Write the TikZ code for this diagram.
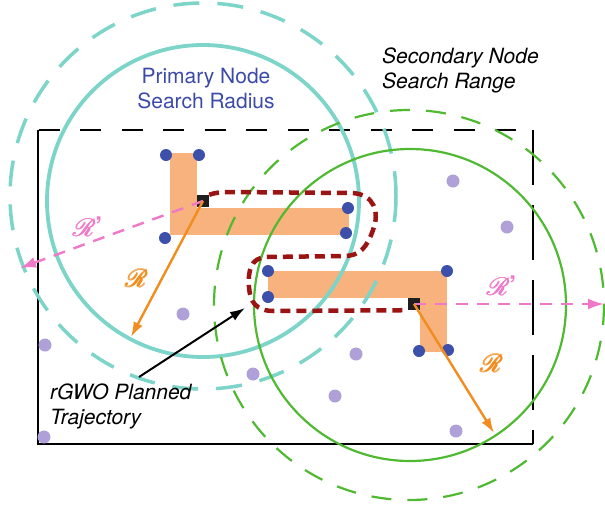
\documentclass[tikz,border=0pt]{standalone}
\usepackage{amsmath}
\usepackage{fontspec}
\setmainfont{texgyreheros}[Extension=.otf, UprightFont=*-regular, ItalicFont=*-italic, BoldFont=*-bold]
\usepackage{mathrsfs}
\usetikzlibrary{arrows.meta}

\definecolor{cyanring}{RGB}{125,212,200}
\definecolor{greenring}{RGB}{80,185,50}
\definecolor{pathfill}{RGB}{248,178,125}
\definecolor{rarrow}{RGB}{242,140,30}
\definecolor{nodeblue}{RGB}{60,80,170}
\definecolor{nodepurple}{RGB}{175,160,215}
\definecolor{trajred}{RGB}{155,20,20}
\definecolor{rpink}{RGB}{240,120,200}
\definecolor{labelblue}{RGB}{60,75,168}

\newcommand\scrR{\ensuremath{\pmb{\mathscr{R}}}}

\tikzset{
  lbl/.style={inner sep=0pt, font=\fontsize{21}{25}\selectfont},
  itlbl/.style={inner sep=0pt, font=\fontsize{21}{25}\selectfont\itshape},
  bdot/.style={circle, fill=nodeblue, inner sep=0pt, minimum size=12pt},
  pdot/.style={circle, fill=nodepurple, inner sep=0pt, minimum size=13pt},
  centre/.style={rectangle, fill=black!88, inner sep=0pt, minimum size=12pt},
  rlbl/.style={inner sep=0pt, font=\fontsize{27}{27}\selectfont},
  rarr/.style={draw=rarrow, line width=2.4pt, -{Latex[length=15pt,width=10pt]}},
  parr/.style={draw=rpink, line width=2.4pt, dash pattern=on 12pt off 9pt, -{Latex[length=16pt,width=11pt]}},
}

\begin{document}
\begin{tikzpicture}[x=1pt,y=-1pt]
\useasboundingbox (0,0) rectangle (605,507);

% occupied cells of the two corridors
\fill[pathfill] (170,153) rectangle (197,235);
\fill[pathfill] (170,208) rectangle (349,235);
\fill[pathfill] (268,271) rectangle (447,298);
\fill[pathfill] (420,271) rectangle (447,352);

% workspace boundary
\draw[line width=2pt] (533,444) -- (38,444) -- (38,130);
\draw[line width=2pt, dash pattern=on 21pt off 20.5pt] (38.5,130) -- (533,130);
\draw[line width=2pt, dash pattern=on 55pt off 20pt] (533,130) -- (533,444);

% free nodes
\node[pdot] (p1) at (453,181) {};
\node[pdot] (p2) at (507,227) {};
\node[pdot] (p3) at (183,314) {};
\node[pdot] (p4) at (45,345) {};
\node[pdot] (p5) at (356,354) {};
\node[pdot] (p6) at (253,374) {};
\node[pdot] (p7) at (335,396) {};
\node[pdot] (p8) at (44,437) {};
\node[pdot] (p9) at (456,431) {};

% current positions
\node[centre] (s1) at (203,201) {};
\node[centre] (s2) at (414,304) {};

% search rings
\draw[cyanring, line width=3.8pt] (203,201) circle (156);
\draw[cyanring, line width=3.5pt, dash pattern=on 26pt off 18pt] (203,196) circle (193);
\draw[greenring, line width=2.2pt] (410,305) circle (156);
\draw[greenring, line width=2.2pt, dash pattern=on 20pt off 16pt] (409,305) circle (195);

% corner nodes of the corridors
\node[bdot] (b1) at (166,155) {};
\node[bdot] (b2) at (199,155) {};
\node[bdot] (b3) at (165,238) {};
\node[bdot] (b4) at (348,208) {};
\node[bdot] (b5) at (346,233) {};
\node[bdot] (b6) at (268,271) {};
\node[bdot] (b7) at (268,297) {};
\node[bdot] (b8) at (447,271) {};
\node[bdot] (b9) at (419,351) {};
\node[bdot] (b10) at (448,350) {};

% planned trajectory
\draw[trajred, line width=4.5pt, dash pattern=on 10pt off 6pt]
  (s1.north east) .. controls (214,193) and (220,192) .. (230,192)
  -- (352,193) .. controls (374,194) and (380,212) .. (373,230)
  .. controls (367,247) and (360,256) .. (344,256)
  -- (266,257) .. controls (250,258) and (248,272) .. (249,287)
  .. controls (250,302) and (256,311) .. (274,311)
  -- (s2.south west);

% radius arrows
\coordinate (r1) at (131,337);
\coordinate (r2) at (494,433);
\coordinate (q1) at (20,268);
\coordinate (q2) at (604,304);
\draw[parr] (s1.center) -- (q1);
\draw[parr] (s2.center) -- (q2);
\draw[rarr] (s1.center) -- (r1);
\draw[rarr] (s2.center) -- (r2);

\node[rlbl, text=rpink] (rp1) at (88,227) {\scrR\kern-1pt\textbf{'}};
\node[rlbl, text=rpink] (rp2) at (502,286) {\scrR\kern-1pt\textbf{'}};
\node[rlbl, text=rarrow] (rr1) at (137,278) {\scrR};
\node[rlbl, text=rarrow] (rr2) at (492,363) {\scrR};

% labels
\node[lbl, text=labelblue, align=center, anchor=base] (prim) at (206,108)
  {Primary Node\\Search Radius};
\node[itlbl, align=left, anchor=base west] (sec) at (382,88)
  {Secondary Node\\Search Range};
\node[itlbl, align=left, anchor=base west] (traj) at (50,424)
  {rGWO Planned\\Trajectory};

\coordinate (tstart) at (139,377);
\coordinate (ttip) at (245,308);
\draw[black, line width=2pt, -{Latex[length=15pt,width=10pt]}] (tstart) -- (ttip);
\end{tikzpicture}
\end{document}
